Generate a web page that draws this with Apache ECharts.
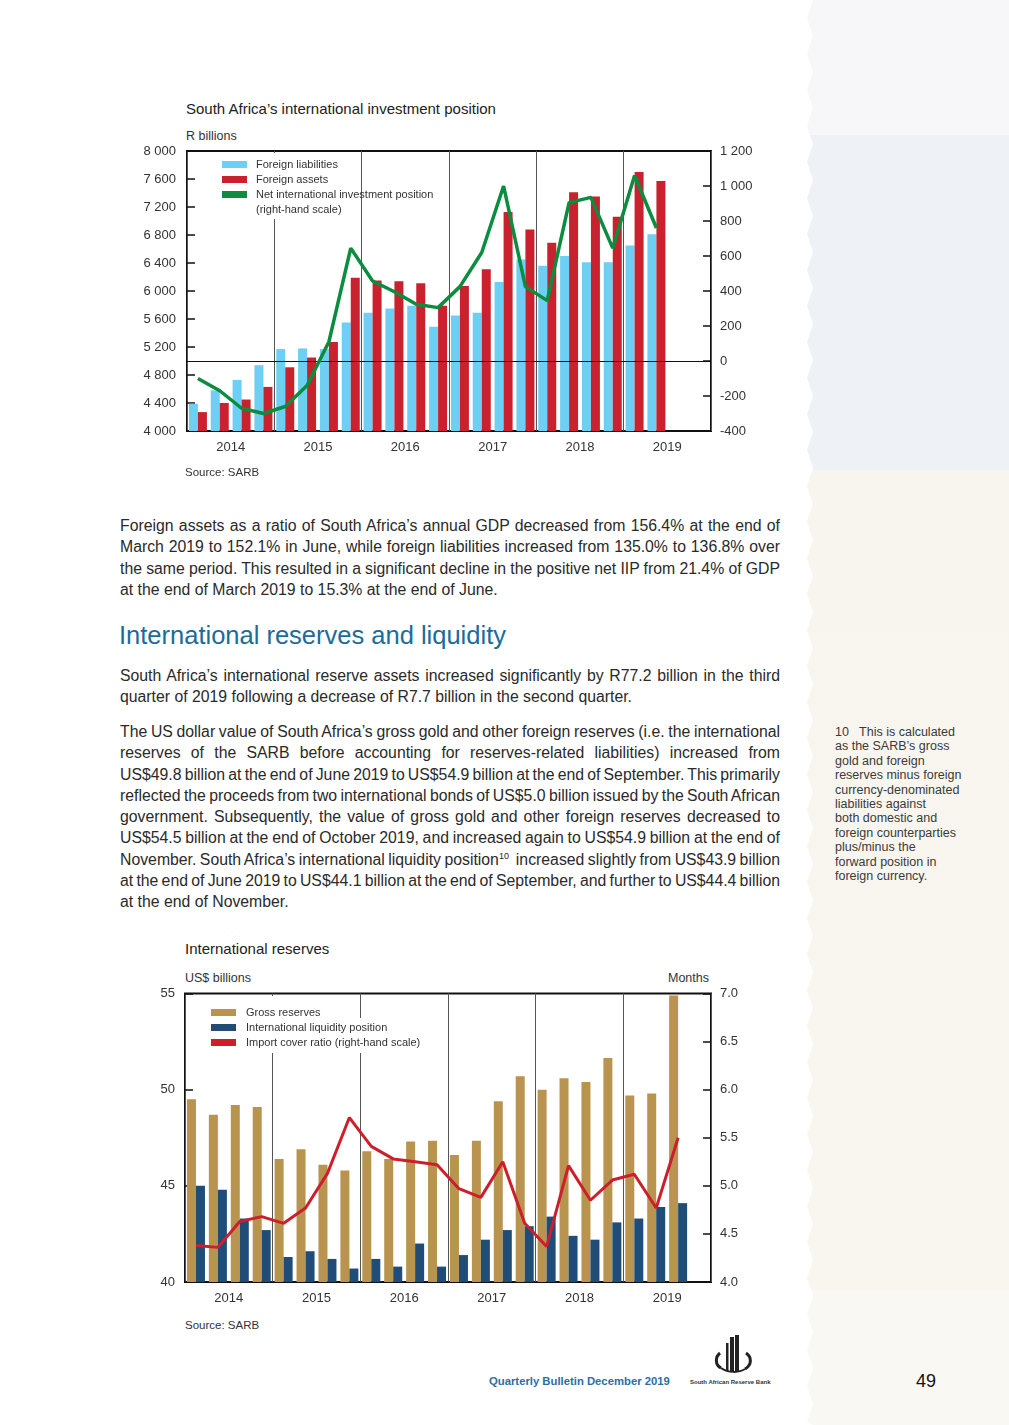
<!DOCTYPE html>
<html>
<head>
<meta charset="utf-8">
<script src="https://cdn.jsdelivr.net/npm/echarts@6/dist/echarts.min.js"></script>
<style>
  html, body { margin:0; padding:0; }
  body { width:1009px; height:1425px; position:relative; background:#fff; overflow:hidden;
         font-family:"Liberation Sans", Arial, sans-serif; color:#2a2a2a; }
  .abs { position:absolute; white-space:pre; }
  #strip { position:absolute; left:805px; top:0; width:204px; height:1425px;
    background:linear-gradient(to bottom,#f7f7fa 0,#f7f7fa 135px,#eef1f6 135px,#eef1f6 470px,#f8f5ee 470px,#f8f6ef 1290px,#faf8f3 1290px,#faf8f3 100%); }
  .para { position:absolute; left:120px; width:660px; font-size:15.8px; line-height:21.3px; color:#2a2a2a; }
  .para div { white-space:pre; height:21.3px; }
  .para sup { font-size:9px; line-height:0; vertical-align:6px; }
  .foot { position:absolute; left:835px; top:725px; font-size:12.5px; line-height:14.4px; color:#3a3a3a; }
  .foot div { white-space:pre; }
</style>
</head>
<body>
<div id="strip"></div>

<div class="abs" style="left:186px;top:100px;font-size:15px;color:#222;">South Africa’s international investment position</div>
<div class="abs" style="left:186px;top:129px;font-size:12.5px;color:#333;">R billions</div>
<div id="c1" style="position:absolute;left:100px;top:140px;width:700px;height:330px;"></div>
<div class="abs" style="left:185px;top:466px;font-size:11.5px;color:#333;">Source: SARB</div>

<div class="para" style="top:515px;">
  <div class="j">Foreign assets as a ratio of South Africa’s annual GDP decreased from 156.4% at the end of</div>
  <div class="j">March 2019 to 152.1% in June, while foreign liabilities increased from 135.0% to 136.8% over</div>
  <div class="j">the same period. This resulted in a significant decline in the positive net IIP from 21.4% of GDP</div>
  <div>at the end of March 2019 to 15.3% at the end of June.</div>
</div>

<div class="abs" style="left:119px;top:621px;font-size:25.5px;color:#1b6b9b;">International reserves and liquidity</div>

<div class="para" style="top:665px;">
  <div class="j">South Africa’s international reserve assets increased significantly by R77.2 billion in the third</div>
  <div>quarter of 2019 following a decrease of R7.7 billion in the second quarter.</div>
</div>

<div class="para" style="top:721px;">
  <div class="j">The US dollar value of South Africa’s gross gold and other foreign reserves (i.e. the international</div>
  <div class="j">reserves of the SARB before accounting for reserves-related liabilities) increased from</div>
  <div class="j">US$49.8 billion at the end of June 2019 to US$54.9 billion at the end of September. This primarily</div>
  <div class="j">reflected the proceeds from two international bonds of US$5.0 billion issued by the South African</div>
  <div class="j">government. Subsequently, the value of gross gold and other foreign reserves decreased to</div>
  <div class="j">US$54.5 billion at the end of October 2019, and increased again to US$54.9 billion at the end of</div>
  <div class="j">November. South Africa’s international liquidity position<sup>10</sup>  increased slightly from US$43.9 billion</div>
  <div class="j">at the end of June 2019 to US$44.1 billion at the end of September, and further to US$44.4 billion</div>
  <div>at the end of November.</div>
</div>

<div class="foot">
  <div>10   This is calculated</div>
  <div>as the SARB’s gross</div>
  <div>gold and foreign</div>
  <div>reserves minus foreign</div>
  <div>currency-denominated</div>
  <div>liabilities against</div>
  <div>both domestic and</div>
  <div>foreign counterparties</div>
  <div>plus/minus the</div>
  <div>forward position in</div>
  <div>foreign currency.</div>
</div>

<div class="abs" style="left:185px;top:940px;font-size:15px;color:#222;">International reserves</div>
<div class="abs" style="left:185px;top:971px;font-size:12.5px;color:#333;">US$ billions</div>
<div class="abs" style="left:668px;top:971px;font-size:12.5px;color:#333;">Months</div>
<div id="c2" style="position:absolute;left:100px;top:985px;width:700px;height:330px;"></div>
<div class="abs" style="left:185px;top:1319px;font-size:11.5px;color:#333;">Source: SARB</div>

<div class="abs" style="left:489px;top:1375px;font-size:11.3px;font-weight:bold;color:#2c6ea6;">Quarterly Bulletin December 2019</div>
<svg style="position:absolute;left:712px;top:1333px;" width="44" height="42" viewBox="0 0 44 42">
  <path d="M8 20 C3 24 3 32 9 35" stroke="#222" stroke-width="3" fill="none"/>
  <path d="M34 20 C40 24 40 32 33 36" stroke="#222" stroke-width="3" fill="none"/>
  <rect x="18" y="4" width="4" height="34" fill="#222"/>
  <rect x="23" y="2" width="4" height="36" fill="#222"/>
  <rect x="14" y="10" width="2.5" height="28" fill="#222"/>
  <path d="M9 35 C16 40 27 40 33 36" stroke="#222" stroke-width="2" fill="none"/>
</svg>
<div class="abs" style="left:690px;top:1379px;font-size:6px;font-weight:bold;color:#333;">South African Reserve Bank</div>
<div class="abs" style="left:916px;top:1371px;font-size:18px;color:#111;">49</div>

<script>
// ---------- Data: chart 1 (R billions / right-hand scale) ----------
const quarters = ['2014Q1','2014Q2','2014Q3','2014Q4','2015Q1','2015Q2','2015Q3','2015Q4',
                  '2016Q1','2016Q2','2016Q3','2016Q4','2017Q1','2017Q2','2017Q3','2017Q4',
                  '2018Q1','2018Q2','2018Q3','2018Q4','2019Q1','2019Q2','2019Q3','2019Q4'];
const years = ['2014','2015','2016','2017','2018','2019'];
const foreignLiabilities = [4390,4580,4730,4940,5170,5180,5170,5550,5690,5750,5790,5490,
                            5650,5690,6130,6450,6360,6500,6410,6410,6650,6810];
const foreignAssets = [4270,4400,4450,4630,4910,5050,5270,6190,6150,6140,6110,5790,
                       6070,6310,7130,6880,6690,7410,7350,7060,7700,7570];
const netIIP = [-100,-170,-270,-300,-260,-140,110,645,457,396,324,305,
                425,620,1000,425,345,905,935,645,1060,760];
const leftTicks1 = {min:4000, max:8000, interval:400};
const rightTicks1 = {min:-400, max:1200, interval:200};

// ---------- Data: chart 2 (US$ billions / months) ----------
const grossReserves = [49.5,48.7,49.2,49.1,46.4,46.9,46.1,45.8,46.8,46.4,47.3,47.35,
                       46.6,47.35,49.4,50.7,50.0,50.6,50.4,51.65,49.7,49.8,54.9];
const liquidityPosition = [45.0,44.8,43.3,42.7,41.3,41.6,41.2,40.7,41.2,40.8,42.0,40.8,
                           41.4,42.2,42.7,42.9,43.4,42.4,42.2,43.1,43.3,43.9,44.1];
const importCover = [4.38,4.36,4.63,4.68,4.61,4.77,5.13,5.71,5.41,5.28,5.25,5.22,
                     4.97,4.88,5.25,4.61,4.37,5.21,4.85,5.06,5.12,4.77,5.50];
const leftTicks2 = {min:40, max:55, interval:5};
const rightTicks2 = {min:4.0, max:7.0, interval:0.5};

// ---------- justify text lines ----------
document.querySelectorAll('.para .j').forEach(function(d){
  const span = document.createElement('span');
  while (d.firstChild) span.appendChild(d.firstChild);
  d.appendChild(span);
  const w = span.getBoundingClientRect().width;
  const n = (span.textContent.match(/ /g) || []).length;
  if (n > 0) d.style.wordSpacing = ((660 - w) / n) + 'px';
});

// ---------- zigzag strip edge ----------
(function(){
  const pts = ['100% 0','8px 0'];
  for (let y = 0, k = 0; y <= 1425; y += 18, k++) pts.push(((k % 2) ? 2 : 8) + 'px ' + y + 'px');
  pts.push('8px 100%','100% 100%');
  document.getElementById('strip').style.clipPath = 'polygon(' + pts.join(',') + ')';
})();

const FONT = 'Liberation Sans';
const thou = v => String(v).replace(/\B(?=(\d{3})+(?!\d))/g, ' ');
const axisText = {fontSize:13, color:'#333', fontFamily:FONT};

function xAxes(margin){
  return [
    {type:'category', data:quarters, show:false, boundaryGap:true},
    {type:'category', data:years, position:'bottom', boundaryGap:true,
     axisLine:{show:false}, axisTick:{show:false},
     axisLabel:Object.assign({margin:margin, interval:0}, axisText),
     splitLine:{show:true, interval:0, lineStyle:{color:'#555', width:1}}}
  ];
}

// ---------- Chart 1 ----------
const c1 = echarts.init(document.getElementById('c1'), null, {renderer:'canvas'});
c1.setOption({
  animation:false,
  grid:{left:87, top:11, width:524, height:280, show:true, borderColor:'#111', borderWidth:2, backgroundColor:'transparent'},
  legend:{orient:'vertical', left:122, top:17, padding:0, itemWidth:25, itemHeight:7, itemGap:0,
    textStyle:{fontSize:11, color:'#333', fontFamily:FONT, lineHeight:15, padding:[0,0,0,4]},
    data:[{name:'Foreign liabilities', icon:'rect'},{name:'Foreign assets', icon:'rect'},
          {name:'Net international investment position', icon:'rect'}]},
  graphic:[
    {type:'rect', left:115, top:13, shape:{width:140, height:66}, style:{fill:'#fff'}, z:3, silent:true},
    {type:'text', x:156, y:70, z:10, style:{text:'(right-hand scale)', fill:'#333', font:'11px "Liberation Sans"', textVerticalAlign:'middle'}}
  ],
  xAxis:xAxes(9.5),
  yAxis:[
    Object.assign({type:'value', position:'left'}, leftTicks1, {
      axisLine:{show:false}, axisTick:{show:true, inside:true, length:8, lineStyle:{color:'#111', width:1.5}},
      splitLine:{show:false}, axisLabel:Object.assign({margin:11, formatter:thou}, axisText)}),
    Object.assign({type:'value', position:'right'}, rightTicks1, {
      axisLine:{show:false}, axisTick:{show:true, inside:true, length:8, lineStyle:{color:'#111', width:1.5}},
      splitLine:{show:false}, axisLabel:Object.assign({margin:9, formatter:thou}, axisText)})
  ],
  series:[
    {name:'Foreign liabilities', type:'bar', xAxisIndex:0, yAxisIndex:0, data:foreignLiabilities,
     barWidth:9, barGap:'0%', itemStyle:{color:'#6dcff4'}},
    {name:'Foreign assets', type:'bar', xAxisIndex:0, yAxisIndex:0, data:foreignAssets,
     barWidth:9, barGap:'0%', itemStyle:{color:'#c9222e'}},
    {name:'Net international investment position', type:'line', xAxisIndex:0, yAxisIndex:1, data:netIIP,
     symbol:'none', color:'#0b8c3e', lineStyle:{color:'#0b8c3e', width:3.5}, itemStyle:{color:'#0b8c3e'}, z:5,
     markLine:{silent:true, symbol:['none','none'], label:{show:false},
       lineStyle:{color:'#111', width:1, type:'solid'}, data:[{yAxis:0}]}}
  ]
});

// ---------- Chart 2 ----------
const c2 = echarts.init(document.getElementById('c2'), null, {renderer:'canvas'});
c2.setOption({
  animation:false,
  grid:{left:85, top:8.5, width:526, height:288.5, show:true, borderColor:'#111', borderWidth:2, backgroundColor:'transparent'},
  legend:{orient:'vertical', left:111, top:20, padding:0, itemWidth:25, itemHeight:7, itemGap:0,
    textStyle:{fontSize:11, color:'#333', fontFamily:FONT, lineHeight:15, padding:[0,0,0,5]},
    data:[{name:'Gross reserves', icon:'rect'},{name:'International liquidity position', icon:'rect'},
          {name:'Import cover ratio (right-hand scale)', icon:'rect'}]},
  graphic:[
    {type:'rect', left:105, top:11, shape:{width:150, height:57}, style:{fill:'#fff'}, z:3, silent:true},
    {type:'rect', left:255, top:33, shape:{width:78, height:35}, style:{fill:'#fff'}, z:3, silent:true}
  ],
  xAxis:xAxes(10),
  yAxis:[
    Object.assign({type:'value', position:'left'}, leftTicks2, {
      axisLine:{show:false}, axisTick:{show:true, inside:true, length:8, lineStyle:{color:'#111', width:1.5}},
      splitLine:{show:false}, axisLabel:Object.assign({margin:10}, axisText)}),
    Object.assign({type:'value', position:'right'}, rightTicks2, {
      axisLine:{show:false}, axisTick:{show:true, inside:true, length:8, lineStyle:{color:'#111', width:1.5}},
      splitLine:{show:false}, axisLabel:Object.assign({margin:9, formatter:v => v.toFixed(1)}, axisText)})
  ],
  series:[
    {name:'Gross reserves', type:'bar', xAxisIndex:0, yAxisIndex:0, data:grossReserves,
     barWidth:9, barGap:'0%', itemStyle:{color:'#b8944f'}},
    {name:'International liquidity position', type:'bar', xAxisIndex:0, yAxisIndex:0, data:liquidityPosition,
     barWidth:9, barGap:'0%', itemStyle:{color:'#1f4d78'}},
    {name:'Import cover ratio (right-hand scale)', type:'line', xAxisIndex:0, yAxisIndex:1, data:importCover,
     symbol:'none', color:'#cc1f2b', lineStyle:{color:'#cc1f2b', width:3}, itemStyle:{color:'#cc1f2b'}, z:5}
  ]
});
</script>
</body>
</html>
